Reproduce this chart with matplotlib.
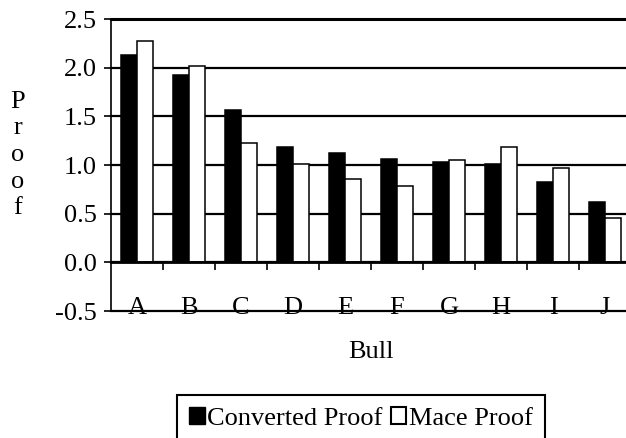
import matplotlib
matplotlib.use('Agg')
import matplotlib.pyplot as plt
from matplotlib.patches import Patch

plt.rcParams['font.family'] = ['Liberation Serif', 'DejaVu Serif']
plt.rcParams['font.size'] = 19

bulls = ['A', 'B', 'C', 'D', 'E', 'F', 'G', 'H', 'I', 'J']
converted = [2.13, 1.92, 1.56, 1.18, 1.12, 1.06, 1.03, 1.01, 0.83, 0.62]
mace = [2.27, 2.02, 1.23, 1.01, 0.86, 0.78, 1.05, 1.18, 0.97, 0.46]
yticks = [-0.5, 0.0, 0.5, 1.0, 1.5, 2.0, 2.5]

fig = plt.figure(figsize=(6.26, 4.38), dpi=100)
ax = fig.add_axes([111 / 626, 1 - 311 / 438, 520 / 626, 292 / 438])

x = range(len(bulls))
w = 0.3
ax.bar([i - w / 2 for i in x], converted, w, color='black', edgecolor='black',
       linewidth=1.1, zorder=2)
ax.bar([i + w / 2 for i in x], mace, w, color='white', edgecolor='black',
       linewidth=1.1, zorder=2)

# horizontal gridlines behind the bars
for y in yticks:
    ax.axhline(y, color='black', lw=2.2 if y == 2.5 else 1.6, zorder=1, clip_on=False)

ax.set_xlim(-0.5, 9.5)
ax.set_ylim(-0.5, 2.5)

ax.spines['top'].set_visible(False)
ax.spines['right'].set_visible(False)
ax.spines['left'].set_linewidth(1.2)
ax.spines['bottom'].set_position(('data', 0))
ax.spines['bottom'].set_linewidth(2.0)
ax.spines['bottom'].set_zorder(3)

ax.set_xticks([i + 0.5 for i in range(len(bulls) - 1)])
ax.set_xticklabels([])
ax.tick_params(axis='x', direction='out', length=6, width=1.2, color='black')

ax.set_yticks(yticks)
ax.set_yticklabels(['%.1f' % v for v in yticks])
ax.tick_params(axis='y', direction='inout', length=10, width=1.2, pad=5)

for i, b in enumerate(bulls):
    ax.text(i, -0.47, b, ha='center', va='center', zorder=4)

fig.text(18 / 626, 1 - 155 / 438, 'P\nr\no\no\nf', ha='center', va='center',
         linespacing=1.27)
fig.text(371 / 626, 1 - 352 / 438, 'Bull', ha='center', va='center')

handles = [Patch(facecolor='black', edgecolor='black', lw=1.0),
           Patch(facecolor='white', edgecolor='black', lw=1.5)]
leg = fig.legend(handles, ['Converted Proof', 'Mace Proof'], ncol=2,
                 loc='upper left', bbox_to_anchor=(177 / 626, 1 - 395 / 438),
                 frameon=True, fancybox=False, edgecolor='black',
                 handlelength=0.6, handleheight=0.6, handletextpad=0.1,
                 columnspacing=0.3, borderpad=0.45, borderaxespad=0)
leg.get_frame().set_linewidth(1.5)
leg.get_frame().set_alpha(None)

fig.savefig('out.png', dpi=100)
